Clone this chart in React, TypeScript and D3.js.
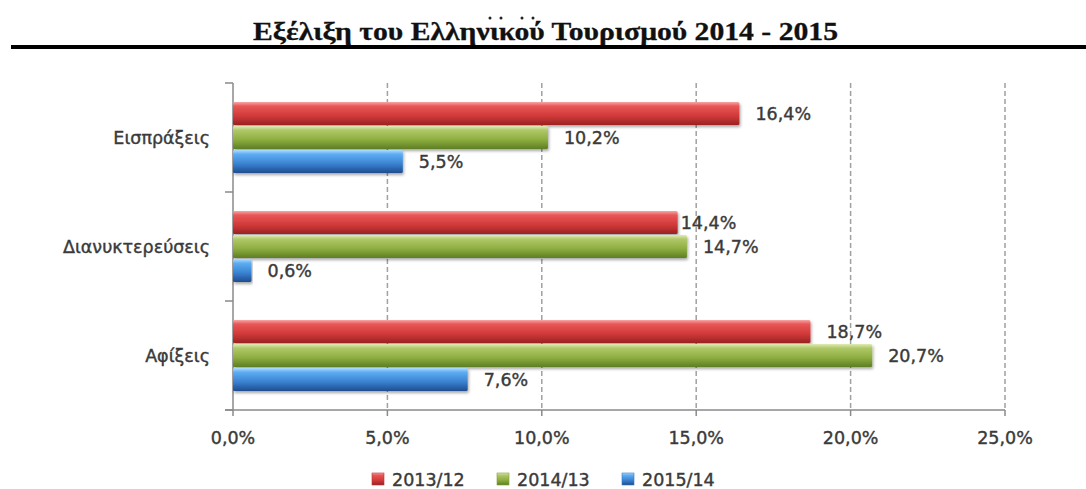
import React from "react";
import * as d3 from "d3";

const categories = ["Εισπράξεις", "Διανυκτερεύσεις", "Αφίξεις"];
const seriesNames = ["2013/12", "2014/13", "2015/14"];
const values2013 = [16.4, 14.4, 18.7];
const values2014 = [10.2, 14.7, 20.7];
const values2015 = [5.5, 0.6, 7.6];
const xTicks = [0, 5, 10, 15, 20, 25];
const title = "Εξέλιξη του Ελληνικού Τουρισμού 2014 - 2015";

const W = 1086;
const H = 489;

const seriesValues = [values2013, values2014, values2015];
const gradIds = ["gRed", "gGreen", "gBlue"];
const gradStops = [
  ["#f7a5a5", "#e85656", "#d23a3a", "#9a2222"],
  ["#e0eab4", "#b0c868", "#8dad40", "#5e7e24"],
  ["#b0dcff", "#5eaef2", "#3a82d2", "#1f4c8e"],
];
const legendColors = ["#b83234", "#7e9e38", "#3578c4"];

const fmt = (v: number) => v.toFixed(1).replace(".", ",") + "%";

export default function App() {
  const x = d3.scaleLinear().domain([0, 25]).range([233, 1005]);
  const y = d3.scaleBand<string>().domain(categories).range([83, 410]).paddingInner(0.34).paddingOuter(0.17);
  const ys = d3.scaleBand<string>().domain(seriesNames).range([0, y.bandwidth()]);
  const boundaries = [0, 1, 2, 3].map((i) => 83 + i * y.step());
  const labelFont = {
    fontFamily: "DejaVu Sans, Verdana, sans-serif",
    fontSize: 17.5,
    fill: "#3a3a3a",
    stroke: "#3a3a3a",
    strokeWidth: 0.4,
  };

  const txt = (tx: number, ty: number, anchor: string, s: string, key: string) => (
    <text key={key} x={tx} y={ty} textAnchor={anchor} {...labelFont}>
      {s}
    </text>
  );

  const legendX = d3.scalePoint<string>().domain(seriesNames).range([372, 622]);

  return (
    <svg width={W} height={H} style={{ position: "absolute", left: 0, top: 0, background: "#fff" }}>
      <defs>
        {gradIds.map((id, i) => (
          <linearGradient key={id} id={id} x1="0" y1="0" x2="0" y2="1">
            <stop offset="0%" stopColor={gradStops[i][0]} />
            <stop offset="18%" stopColor={gradStops[i][1]} />
            <stop offset="60%" stopColor={gradStops[i][2]} />
            <stop offset="100%" stopColor={gradStops[i][3]} />
          </linearGradient>
        ))}
        <filter id="shadow" x="-5%" y="-20%" width="110%" height="160%">
          <feDropShadow dx="1" dy="2" stdDeviation="1.5" floodColor="#000" floodOpacity="0.35" />
        </filter>
      </defs>

      {/* Title */}
      {[490, 501, 522, 533].map((cx) => (
        <circle key={cx} cx={cx} cy={18} r={1.5} fill="#222" />
      ))}
      <text x={545.5} y={40} textAnchor="middle" fontFamily="Liberation Serif, serif" fontWeight="bold" fontSize={25}
        fill="#111" stroke="#111" strokeWidth={0.3} textLength={585} lengthAdjust="spacingAndGlyphs">
        {title}
      </text>
      <rect x={11} y={45} width={W - 11} height={4} fill="#000" />

      {/* Gridlines */}
      {xTicks.slice(1).map((t) => (
        <line key={t} x1={x(t)} x2={x(t)} y1={83} y2={410} stroke="#a0a0a0" strokeWidth={1.5} strokeDasharray="5,3" />
      ))}

      {/* Axes */}
      <line x1={233} x2={233} y1={83} y2={410} stroke="#8a8a8a" strokeWidth={1.5} />
      {boundaries.map((b, i) => (
        <line key={i} x1={225} x2={233} y1={b} y2={b} stroke="#8a8a8a" strokeWidth={1.5} />
      ))}
      <line x1={225} x2={x(25)} y1={410} y2={410} stroke="#8a8a8a" strokeWidth={1.5} />
      {xTicks.map((t) => (
        <line key={t} x1={x(t)} x2={x(t)} y1={410} y2={416} stroke="#8a8a8a" strokeWidth={1.5} />
      ))}

      {/* Bars */}
      {categories.map((c, ci) =>
        seriesNames.map((s, si) => {
          const v = seriesValues[si][ci];
          const by = (y(c) as number) + (ys(s) as number);
          const bh = ys.bandwidth();
          return (
            <rect key={c + s} x={x(0)} y={by + 0.5} width={x(v) - x(0)} height={bh - 1}
              fill={`url(#${gradIds[si]})`} rx={1.5} filter="url(#shadow)" />
          );
        })
      )}

      {/* Value labels */}
      {categories.map((c, ci) =>
        seriesNames.map((s, si) => {
          const v = seriesValues[si][ci];
          const by = (y(c) as number) + (ys(s) as number) + ys.bandwidth() / 2;
          const dx = ci === 1 && si === 0 ? 3 : 16;
          return txt(x(v) + dx, by + 6.5, "start", fmt(v), "l" + c + s);
        })
      )}

      {/* Category labels */}
      {categories.map((c) => txt(210, (y(c) as number) + y.bandwidth() / 2 + 6.5, "end", c, "c" + c))}

      {/* X tick labels */}
      {xTicks.map((t) => txt(x(t), 444, "middle", fmt(t), "t" + t))}

      {/* Legend */}
      {seriesNames.map((s, i) => (
        <g key={s}>
          <rect x={legendX(s)} y={473} width={12} height={12} fill={`url(#${gradIds[i]})`} stroke={legendColors[i]} strokeWidth={0.6} />
          {txt((legendX(s) as number) + 20, 486, "start", s, "lg" + s)}
        </g>
      ))}
    </svg>
  );
}
